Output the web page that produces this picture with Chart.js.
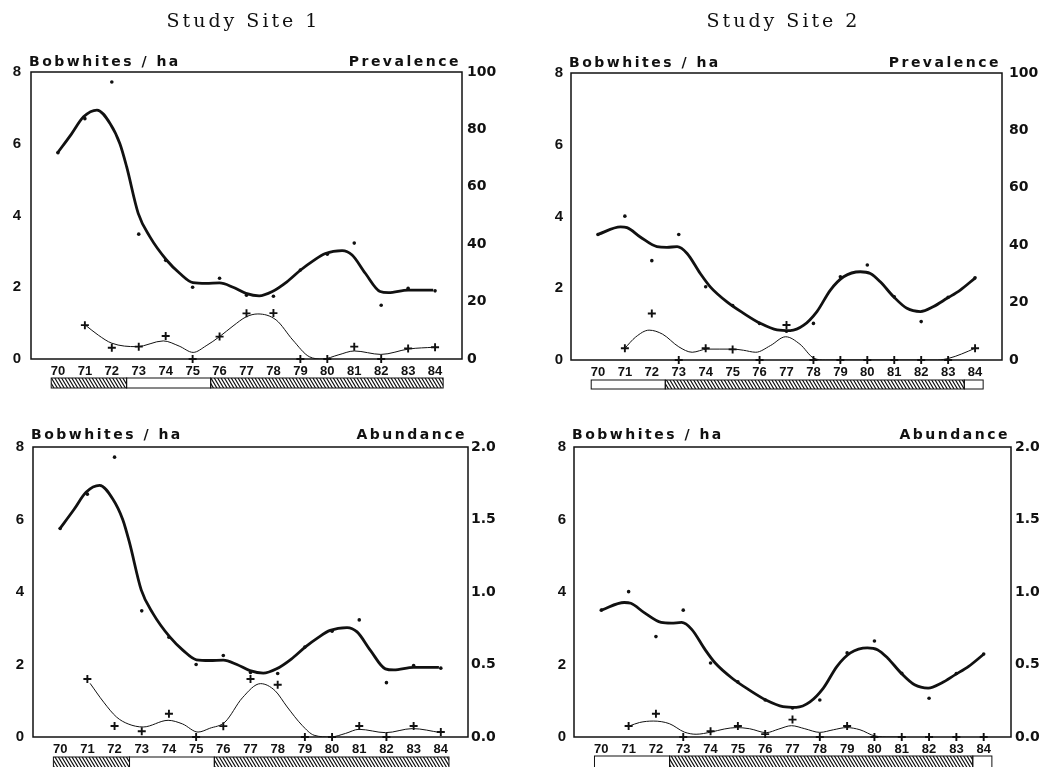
<!DOCTYPE html>
<html><head><meta charset="utf-8">
<script src="https://cdn.jsdelivr.net/npm/chart.js@4.4.1/dist/chart.umd.min.js"></script>
<style>
html,body{margin:0;padding:0;background:#fff;}
#wrap{position:relative;width:1048px;height:767px;overflow:hidden;background:#fff;}
.p{position:absolute;}
</style></head>
<body><div id="wrap">
<div class="p" style="left:0;top:0;"><canvas id="c1" width="524" height="392"></canvas></div>
<div class="p" style="left:524px;top:0;"><canvas id="c2" width="524" height="392"></canvas></div>
<div class="p" style="left:0;top:392px;"><canvas id="c3" width="524" height="375"></canvas></div>
<div class="p" style="left:524px;top:392px;"><canvas id="c4" width="524" height="375"></canvas></div>
</div>
<script>
// ---------- data ----------
const years = [70,71,72,73,74,75,76,77,78,79,80,81,82,83,84];
const parasiteYears = [71,72,73,74,75,76,77,78,79,80,81,82,83,84];

// Bobwhites / ha, observed
const site1Density = [5.75,6.7,7.72,3.48,2.75,2.0,2.25,1.78,1.75,2.48,2.92,3.23,1.5,1.97,1.9];
const site2Density = [3.5,4.01,2.77,3.5,2.04,1.52,1.02,0.8,1.02,2.32,2.65,1.76,1.07,1.75,2.29];

// Bobwhites / ha, smoothed curve
const site1DensityFitX = [69.97,70.5,70.95,71.45,71.94,72.3,72.55,72.98,73.41,74.03,74.52,75.01,75.5,76.0,76.5,76.98,77.47,77.96,78.5,79.01,79.5,79.93,80.55,80.92,81.41,81.96,82.27,83.0,83.5,83.93];
const site1DensityFitY = [5.73,6.27,6.75,6.94,6.56,6.0,5.36,4.06,3.41,2.76,2.39,2.13,2.11,2.12,2.0,1.83,1.76,1.88,2.15,2.48,2.75,2.94,3.02,2.9,2.39,1.88,1.85,1.92,1.92,1.92];
const site2DensityFitX = [70.0,70.84,71.08,71.57,72.19,72.56,72.94,73.31,73.8,74.17,74.79,75.41,76.03,76.65,77.14,77.64,78.13,78.63,79.12,79.74,80.11,80.48,80.98,81.47,81.97,82.46,82.96,83.45,84.01];
const site2DensityFitY = [3.5,3.71,3.69,3.43,3.16,3.14,3.16,2.97,2.41,2.04,1.62,1.30,1.02,0.84,0.82,0.97,1.35,1.95,2.32,2.46,2.41,2.18,1.76,1.44,1.35,1.49,1.72,1.95,2.29];

// Prevalence (%), observed and smoothed
const site1Prevalence = [11.8,3.9,4.3,8.0,0,7.8,15.9,16.0,0,0,4.3,0,3.7,4.1];
const site2Prevalence = [4.1,16.2,0,4.1,3.7,0,12.2,0,0,0,0,0,0,4.1];
const site1PrevFitX = [71.02,71.5,72.0,72.93,73.91,74.5,75.02,75.5,76.0,76.5,76.99,77.42,78.1,78.72,79.33,79.83,80.4,81.0,81.99,83.03,83.96];
const site1PrevFitY = [11.8,8.3,5.5,4.3,6.3,4.5,2.3,4.6,7.8,11.5,14.7,15.7,13.6,6.6,0.8,0,1.4,2.8,1.6,3.5,4.1];
const site2PrevFitX = [71.0,71.4,71.9,72.4,73.0,73.5,74.05,74.5,75.0,75.4,75.86,76.4,76.97,77.5,78.02,78.45,79,80,81,82,82.6,83.03,83.5,84.0];
const site2PrevFitY = [4.1,8.0,10.4,9.0,4.6,2.7,3.8,3.8,3.8,3.4,2.7,5.0,8.1,5.5,0.6,0,0,0,0,0,0,0.6,2.1,4.1];

// Abundance, observed and smoothed
const site1Abundance = [0.40,0.076,0.04,0.16,0,0.075,0.40,0.36,0,0,0.076,0,0.076,0.034];
const site2Abundance = [0.076,0.16,0,0.04,0.076,0.02,0.12,0,0.076,0,0,0,0,0];
const site1AbundFitX = [71.1,71.6,72.07,72.5,73.05,73.97,74.5,75.07,75.5,76.06,76.7,77.37,77.9,78.35,78.9,79.34,79.95,80.5,80.99,81.97,82.96,84.0];
const site1AbundFitY = [0.37,0.24,0.138,0.09,0.069,0.115,0.09,0.034,0.06,0.103,0.27,0.368,0.32,0.207,0.08,0.012,0,0.025,0.053,0.03,0.058,0.03];
const site2AbundFitX = [71.03,71.4,71.9,72.49,73.04,73.47,74.02,74.5,74.94,75.43,76.04,76.5,76.96,77.45,78.0,78.5,78.98,79.47,80.02,80.57,81.06];
const site2AbundFitY = [0.076,0.1,0.11,0.092,0.034,0.019,0.034,0.055,0.065,0.057,0.03,0.055,0.078,0.057,0.032,0.05,0.065,0.05,0.007,0,0];

// Period bars under the x axis: [from, to, hatched]
const site1Periods = [[69.75,72.55,true],[72.55,75.67,false],[75.67,84.3,true]];
const site2Periods = [[69.75,72.5,false],[72.5,83.6,true],[83.6,84.3,false]];

const prevTicks = [0,20,40,60,80,100];
const abundTicks = [0,0.5,1.0,1.5,2.0];
const densityTicks = [0,2,4,6,8];

// ---------- drawing ----------
const INK = '#111';
const pts = (xs, ys) => xs.map((x,i)=>({x, y: ys[i]}));

const decor = {
  id: 'decor',
  afterDraw(chart, args, o) {
    const {ctx, chartArea: a} = chart;
    const x = chart.scales.x;
    ctx.save();
    ctx.strokeStyle = INK; ctx.fillStyle = INK;
    ctx.lineWidth = 1.5;
    ctx.strokeRect(a.left, a.top, a.right - a.left, a.bottom - a.top);
    if (o.title) {
      ctx.font = '19px "DejaVu Serif"';
      ctx.letterSpacing = '3px';
      ctx.textAlign = 'center'; ctx.textBaseline = 'alphabetic';
      ctx.fillText(o.title, (a.left + a.right) / 2 - 3, o.titleY);
    }
    ctx.font = 'bold 14px "DejaVu Sans"';
    ctx.letterSpacing = '2.5px';
    ctx.textBaseline = 'alphabetic';
    ctx.textAlign = 'left';
    ctx.fillText(o.leftLabel, a.left - 2, a.top - o.labelGap);
    ctx.textAlign = 'right';
    ctx.fillText(o.rightLabel, a.right - 1, a.top - o.labelGap);
    ctx.letterSpacing = '0px';
    // period bar
    const y0 = a.bottom + o.barOffset, h = o.barHeight;
    ctx.lineWidth = 1;
    o.periods.forEach(([f, t, hatched]) => {
      const x0 = x.getPixelForValue(f), x1 = x.getPixelForValue(t);
      if (hatched) {
        ctx.save();
        ctx.beginPath(); ctx.rect(x0, y0, x1 - x0, h); ctx.clip();
        ctx.beginPath();
        for (let xx = x0 - h; xx < x1 + h; xx += 3.4) {
          ctx.moveTo(xx, y0); ctx.lineTo(xx + h * 0.6, y0 + h);
        }
        ctx.lineWidth = 1.2;
        ctx.stroke();
        ctx.restore();
      }
      ctx.strokeRect(x0, y0, x1 - x0, h);
    });
    ctx.restore();
  }
};

function makeChart(id, c) {
  new Chart(document.getElementById(id), {
    type: 'line',
    data: {
      datasets: [
        { data: pts(c.fitX, c.fitY), yAxisID: 'y', borderColor: INK, borderWidth: 2.8,
          pointRadius: 0, cubicInterpolationMode: 'monotone', fill: false },
        { data: pts(years, c.density), yAxisID: 'y', showLine: false, pointStyle: 'circle',
          pointRadius: 1.8, pointBackgroundColor: INK, pointBorderColor: INK, pointBorderWidth: 0 },
        { data: pts(c.pFitX, c.pFitY), yAxisID: 'y2', borderColor: INK, borderWidth: 1,
          pointRadius: 0, cubicInterpolationMode: 'monotone', fill: false },
        { data: pts(parasiteYears, c.parasite), yAxisID: 'y2', showLine: false, pointStyle: 'cross',
          pointRadius: 4, pointBorderColor: INK, pointBorderWidth: 1.9, clip: false }
      ]
    },
    options: {
      responsive: false, animation: false, events: [],
      layout: { padding: { top: c.padTop, left: 0, right: 0, bottom: 0 } },
      plugins: {
        legend: { display: false }, tooltip: { enabled: false },
        decor: { title: c.title, titleY: 27, leftLabel: 'Bobwhites / ha', rightLabel: c.rightLabel,
                 labelGap: c.labelGap, periods: c.periods, barOffset: c.barOffset, barHeight: c.barHeight }
      },
      scales: {
        x: {
          type: 'linear', min: 69, max: 85, position: 'bottom',
          afterBuildTicks: s => { s.ticks = years.map(v => ({ value: v })); },
          afterFit: s => { s.height = c.xh; },
          grid: { display: false, drawTicks: false }, border: { display: false },
          ticks: { autoSkip: false, maxRotation: 0, padding: 5, color: INK,
                   font: { family: '"Liberation Sans"', weight: 'bold', size: 13 },
                   callback: v => String(v) }
        },
        y: {
          position: 'left', min: 0, max: 8,
          afterBuildTicks: s => { s.ticks = densityTicks.map(v => ({ value: v })); },
          afterFit: s => { s.width = c.lw; },
          grid: { display: false, drawTicks: false }, border: { display: false },
          ticks: { padding: c.lpad, color: INK,
                   font: { family: '"Liberation Sans"', weight: 'bold', size: 15 },
                   callback: v => String(v) }
        },
        y2: {
          position: 'right', min: 0, max: c.rmax,
          afterBuildTicks: s => { s.ticks = c.rticks.map(v => ({ value: v })); },
          afterFit: s => { s.width = c.rw; },
          grid: { display: false, drawTicks: false }, border: { display: false },
          ticks: { padding: c.rpad, color: INK,
                   font: { family: '"DejaVu Sans"', weight: 'bold', size: 14 },
                   callback: v => c.rmax > 10 ? String(v) : v.toFixed(1) }
        }
      }
    },
    plugins: [decor]
  });
}

makeChart('c1', { title: 'Study Site 1', rightLabel: 'Prevalence', density: site1Density,
  fitX: site1DensityFitX, fitY: site1DensityFitY, parasite: site1Prevalence,
  pFitX: site1PrevFitX, pFitY: site1PrevFitY, rmax: 100, rticks: prevTicks,
  periods: site1Periods, padTop: 72, xh: 33, lw: 31, rw: 62, lpad: 10, rpad: 5,
  labelGap: 6, barOffset: 19, barHeight: 10 });
makeChart('c2', { title: 'Study Site 2', rightLabel: 'Prevalence', density: site2Density,
  fitX: site2DensityFitX, fitY: site2DensityFitY, parasite: site2Prevalence,
  pFitX: site2PrevFitX, pFitY: site2PrevFitY, rmax: 100, rticks: prevTicks,
  periods: site2Periods, padTop: 73, xh: 32, lw: 47, rw: 46, lpad: 8, rpad: 7,
  labelGap: 6, barOffset: 20, barHeight: 9 });
makeChart('c3', { title: null, rightLabel: 'Abundance', density: site1Density,
  fitX: site1DensityFitX, fitY: site1DensityFitY, parasite: site1Abundance,
  pFitX: site1AbundFitX, pFitY: site1AbundFitY, rmax: 2, rticks: abundTicks,
  periods: site1Periods, padTop: 55, xh: 30, lw: 33, rw: 56, lpad: 9, rpad: 3,
  labelGap: 8, barOffset: 20, barHeight: 12 });
makeChart('c4', { title: null, rightLabel: 'Abundance', density: site2Density,
  fitX: site2DensityFitX, fitY: site2DensityFitY, parasite: site2Abundance,
  pFitX: site2AbundFitX, pFitY: site2AbundFitY, rmax: 2, rticks: abundTicks,
  periods: site2Periods, padTop: 55, xh: 30, lw: 50, rw: 37, lpad: 8, rpad: 4,
  labelGap: 8, barOffset: 19, barHeight: 12 });
</script>
</body></html>
